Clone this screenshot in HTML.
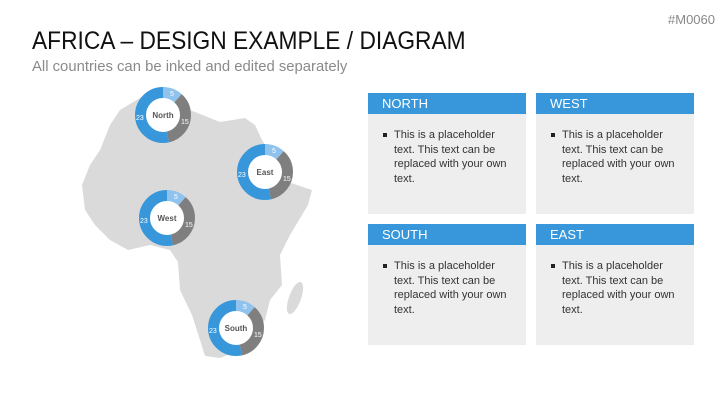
<!DOCTYPE html>
<html><head><meta charset="utf-8"><style>
body{margin:0;width:727px;height:409px;background:#fff;position:relative;overflow:hidden;font-family:"Liberation Sans",sans-serif}
.t{position:absolute;left:32px;top:27px;font-size:25px;color:#111;white-space:nowrap;transform-origin:0 0;transform:scaleX(.91)}
.s{position:absolute;left:32px;top:58px;font-size:15px;color:#8a8a8a;white-space:nowrap;transform-origin:0 0;transform:scaleX(.99)}
.id{position:absolute;right:12px;top:12px;font-size:13px;color:#888}
.box{position:absolute;width:158px;height:121px;background:#eeeeee}
.h{height:21px;background:#3897db;color:#fff;font-size:13px;line-height:21px;padding-left:14px}
.b{padding:14px 10px 0 26px;font-size:11px;line-height:14.5px;color:#333;position:relative}
.b:before{content:"";position:absolute;left:15px;top:19px;width:4px;height:4px;background:#222}
</style></head><body>
<div class="id">#M0060</div>
<div class="t">AFRICA – DESIGN EXAMPLE / DIAGRAM</div>
<div class="s">All countries can be inked and edited separately</div>
<svg width="727" height="409" style="position:absolute;left:0;top:0">
<path d="M120,110 L145,95 L195,112 L220,122 L245,118 L255,125 L262,140 L275,160 L288,182 L312,190 L308,205 L290,235 L280,255 L282,285 L270,300 L265,320 L250,335 L240,350 L220,358 L205,356 L200,340 L192,315 L180,290 L178,262 L170,250 L150,245 L128,250 L110,240 L95,225 L85,210 L82,185 L90,165 L100,150 L110,125 Z" fill="#dadada"/>
<ellipse cx="295" cy="298" rx="6" ry="17" transform="rotate(20 295 298)" fill="#dadada"/>
<defs><g id="dn">
<circle r="22.5" fill="#fff"/>
<circle r="22.5" fill="none" stroke="#8fc3ed" stroke-width="11" stroke-dasharray="16.4 200" transform="rotate(-90)"/>
<circle r="22.5" fill="none" stroke="#7f7f7f" stroke-width="11" stroke-dasharray="0 16.4 49.3 200" transform="rotate(-90)"/>
<circle r="22.5" fill="none" stroke="#3897db" stroke-width="11" stroke-dasharray="0 65.7 75.7 200" transform="rotate(-90)"/>
<text x="7" y="-19" font-size="7" fill="#fff" font-family="Liberation Sans,sans-serif">5</text>
<text x="18" y="9" font-size="7" fill="#fff" font-family="Liberation Sans,sans-serif">15</text>
<text x="-27" y="5" font-size="7" fill="#fff" font-family="Liberation Sans,sans-serif">23</text>
</g></defs>
<g font-family="Liberation Sans,sans-serif">
<use href="#dn" x="163" y="115"/><text x="163" y="118" text-anchor="middle" font-size="8" font-weight="bold" fill="#555">North</text>
<use href="#dn" x="265" y="172"/><text x="265" y="175" text-anchor="middle" font-size="8" font-weight="bold" fill="#555">East</text>
<use href="#dn" x="167" y="218"/><text x="167" y="221" text-anchor="middle" font-size="8" font-weight="bold" fill="#555">West</text>
<use href="#dn" x="236" y="328"/><text x="236" y="331" text-anchor="middle" font-size="8" font-weight="bold" fill="#555">South</text>
</g>
</svg>
<div class="box" style="left:368px;top:93px"><div class="h">NORTH</div><div class="b">This is a placeholder text. This text can be replaced with your own text.</div></div>
<div class="box" style="left:536px;top:93px"><div class="h">WEST</div><div class="b">This is a placeholder text. This text can be replaced with your own text.</div></div>
<div class="box" style="left:368px;top:224px"><div class="h">SOUTH</div><div class="b">This is a placeholder text. This text can be replaced with your own text.</div></div>
<div class="box" style="left:536px;top:224px"><div class="h">EAST</div><div class="b">This is a placeholder text. This text can be replaced with your own text.</div></div>
</body></html>
